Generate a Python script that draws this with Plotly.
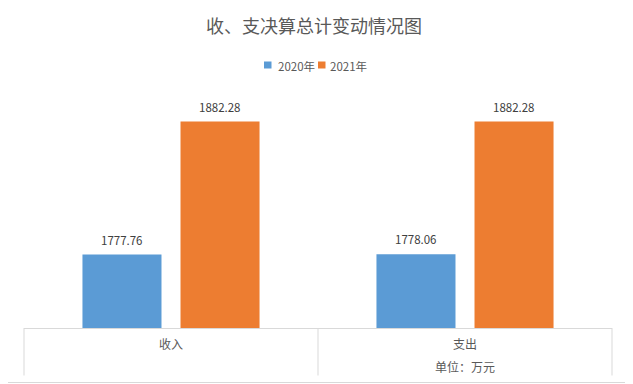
import plotly.graph_objects as go

categories = ["收入", "支出"]
series_names = ["2020年", "2021年"]
values_2020 = [1777.76, 1778.06]
values_2021 = [1882.28, 1882.28]
colors = ["#5B9BD5", "#ED7D31"]

FONT = "Noto Sans CJK SC, Microsoft YaHei, sans-serif"

# page body has an 8px margin; figure is sized/offset to compensate
OFF = 8
H = 229.0
def py(pix):
    return (328 - pix) / H
def px(pix):
    return (pix - 24) / 588.0

fig = go.Figure()
annotations = []
offsets = [-49, 49]
for name, vals, col, off in zip(series_names, [values_2020, values_2021], colors, offsets):
    fig.add_trace(go.Bar(
        x=categories, y=vals, name=name, marker=dict(color=col, line=dict(width=0)),
        showlegend=False,
    ))
    for c, v in zip(categories, vals):
        annotations.append(dict(x=c, y=v, xref="x", yref="y", text=f"{v:.2f}",
                                showarrow=False, xshift=off, yshift=15,
                                xanchor="center", yanchor="middle",
                                font=dict(size=11.5, color="#404040", family=FONT)))

shapes = []
for xx in [0, 0.5, 1]:
    shapes.append(dict(type="line", xref="paper", yref="paper", x0=xx, x1=xx,
                       y0=0, y1=py(375.5), line=dict(color="#D9D9D9", width=1)))
# outer chart border (right & bottom)
shapes.append(dict(type="line", xref="paper", yref="paper", x0=px(629.5), x1=px(629.5),
                   y0=py(382.5), y1=py(-20), line=dict(color="#D9D9D9", width=1)))
shapes.append(dict(type="line", xref="paper", yref="paper", x0=px(-20), x1=px(629.5),
                   y0=py(382.5), y1=py(382.5), line=dict(color="#D9D9D9", width=1)))

# custom legend
leg_items = [(series_names[0], colors[0], 264, 276), (series_names[1], colors[1], 318, 328)]
for name, col, sq_x, tx in leg_items:
    shapes.append(dict(type="rect", xref="paper", yref="paper", x0=px(sq_x), x1=px(sq_x + 7.5),
                       y0=py(68.5), y1=py(61.5), fillcolor=col, line=dict(width=0)))
    annotations.append(dict(text=name, xref="paper", yref="paper", x=px(tx), y=py(65.5),
                            xanchor="left", yanchor="middle", showarrow=False,
                            font=dict(size=11.5, color="#595959", family=FONT)))

annotations.append(dict(text="单位：万元", xref="paper", yref="paper", x=px(464.5), y=py(366),
                        xanchor="center", yanchor="middle", showarrow=False,
                        font=dict(size=12, color="#595959", family=FONT)))

W, HH = 633 - OFF, 384 - OFF
fig.update_layout(
    width=W, height=HH,
    margin=dict(l=24 - OFF, r=633 - 612, t=99 - OFF, b=384 - 328, autoexpand=False),
    paper_bgcolor="white", plot_bgcolor="white",
    font=dict(family=FONT, color="#595959", size=12),
    title=dict(text="收、支决算总计变动情况图", x=(314 - OFF) / W, xref="container",
               xanchor="center",
               y=1 - (27 - OFF) / HH, yref="container", yanchor="middle",
               font=dict(size=18, color="#595959", family=FONT)),
    barmode="group", bargap=0.333, bargroupgap=0.194,
    xaxis=dict(showline=True, linecolor="#D9D9D9", linewidth=1, ticks="",
               tickfont=dict(size=12, color="#595959", family=FONT), showgrid=False,
               fixedrange=True, automargin=False, ticklabelstandoff=6),
    yaxis=dict(range=[1720, 1900], visible=False, showgrid=False, fixedrange=True,
               automargin=False),
    shapes=shapes,
    annotations=annotations,
    showlegend=False,
)

fig.write_html("out.html")
